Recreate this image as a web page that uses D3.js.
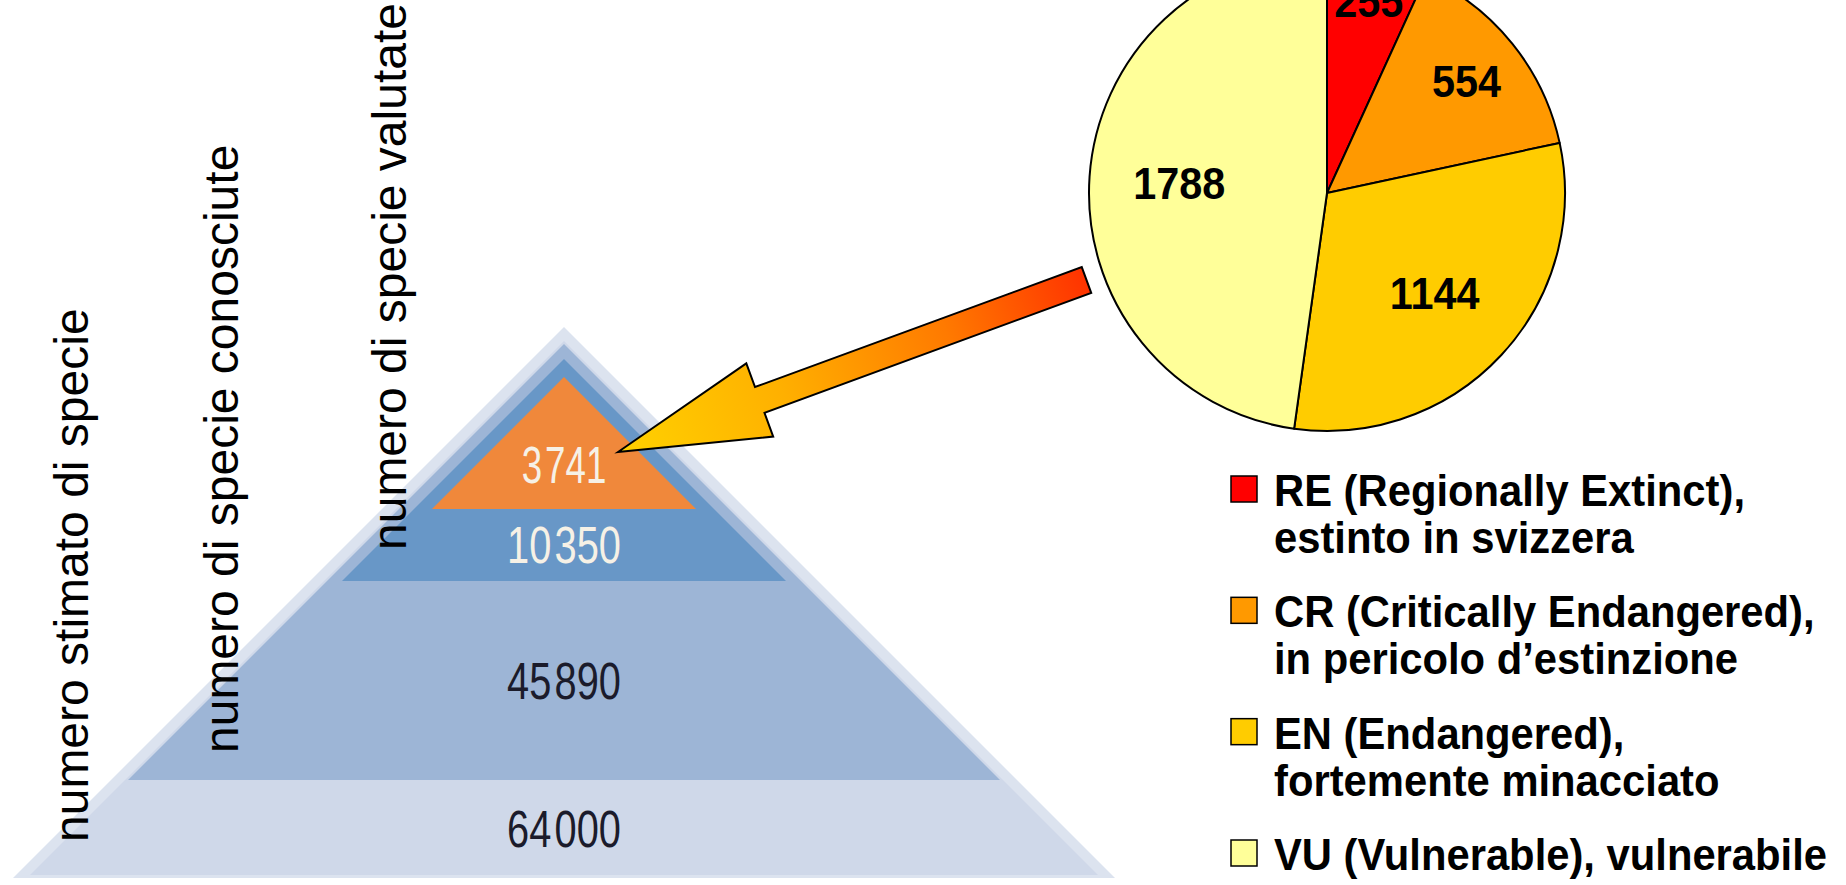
<!DOCTYPE html>
<html>
<head>
<meta charset="utf-8">
<script src="https://d3js.org/d3.v7.min.js"></script>
<style>
  html, body { margin: 0; padding: 0; background: #fff; overflow: hidden; }
  svg { display: block; }
</style>
</head>
<body>
<div id="chart"></div>
<script>
// pie data: species by red list category
const categories = ["RE", "CR", "EN", "VU"];
const counts = [255, 554, 1144, 1788];
const legendLines = [
  ["RE (Regionally Extinct),", "estinto in svizzera"],
  ["CR (Critically Endangered),", "in pericolo d\u2019estinzione"],
  ["EN (Endangered),", "fortemente minacciato"],
  ["VU (Vulnerable), vulnerabile"]
];

// pyramid data
const tierValues = [64000, 45890, 10350, 3741];
const tierTitles = ["numero stimato di specie", "numero di specie conosciute", "numero di specie valutate"];

const w = 1846, h = 885;
const sliceColors = ["#ff0000", "#ff9900", "#ffcc00", "#ffff99"];
const tierColors = ["#cfd8e9", "#9db5d6", "#6897c7", "#f0883b"];
const tierTextColors = ["#1b1b2b", "#1b1b2b", "#f6f1e6", "#f6f1e6"];

const svg = d3.select("#chart").append("svg")
  .attr("width", w)
  .attr("height", h);

const fmt = d3.formatLocale({decimal: ".", thousands: "\u200a", grouping: [3], currency: ["", ""]}).format(",");

// ---------- pyramid ----------
const cx = 564;
const tierTop = [327, 344, 359, 377];     // apex of each nested triangle
const tierBase = [878, 780, 581, 509];    // base of each nested triangle
const tri = (top, base) => {
  const hw = base - top;
  return [[cx, top], [cx + hw, base], [cx - hw, base]];
};
const line = d3.line().curve(d3.curveLinearClosed);

// soft rim of the outer triangle
svg.append("path")
  .attr("d", line(tri(tierTop[0], tierBase[0])))
  .attr("fill", "#dce3ef");

svg.selectAll("path.tier")
  .data(tierValues)
  .enter()
  .append("path")
  .attr("class", "tier")
  .attr("d", (d, i) => i === 0 ? line(tri(tierTop[0] + 14, tierBase[0] - 3)) : line(tri(tierTop[i], tierBase[i])))
  .attr("fill", (d, i) => tierColors[i]);

svg.selectAll("text.tier-label")
  .data(tierValues)
  .enter()
  .append("text")
  .attr("class", "tier-label")
  .attr("transform", (d, i) => {
    const last = i === tierValues.length - 1;
    const mid = last ? tierTop[i] + (tierBase[i] - tierTop[i]) * 2 / 3 : (tierBase[i] + tierBase[i + 1]) / 2;
    return "translate(" + cx + "," + (mid + 18) + ") scale(" + (last ? 0.72 : 0.78) + ",1)";
  })
  .attr("text-anchor", "middle")
  .style("font-family", "'Liberation Sans', Arial, sans-serif")
  .style("font-size", "51px")
  .attr("fill", (d, i) => tierTextColors[i])
  .text(d => fmt(d));

// vertical titles
const titleX = [88, 238, 406];
const titleY = [842, 753, 550];
svg.selectAll("text.title")
  .data(tierTitles)
  .enter()
  .append("text")
  .attr("class", "title")
  .attr("transform", (d, i) => "translate(" + titleX[i] + "," + titleY[i] + ") rotate(-90)")
  .style("font-family", "'Liberation Sans', Arial, sans-serif")
  .style("font-size", "48px")
  .attr("fill", "#000")
  .text(d => d);

// ---------- arrow ----------
const tip = [618, 452], tail = [1086.5, 280];
const len = Math.hypot(tail[0] - tip[0], tail[1] - tip[1]);
const u = [(tail[0] - tip[0]) / len, (tail[1] - tip[1]) / len];
const n = [-u[1], u[0]];
const headLen = 151, headHalf = 39, shaftHalf = 13.75;
const at = (p, a, b) => [p[0] + u[0] * a + n[0] * b, p[1] + u[1] * a + n[1] * b];
const arrowPts = [
  tip,
  at(tip, headLen, headHalf),
  at(tip, headLen, shaftHalf),
  at(tail, 0, shaftHalf),
  at(tail, 0, -shaftHalf),
  at(tip, headLen, -shaftHalf),
  at(tip, headLen, -headHalf)
];

const defs = svg.append("defs");
const grad = defs.append("linearGradient")
  .attr("id", "arrowGrad")
  .attr("gradientUnits", "userSpaceOnUse")
  .attr("x1", tip[0]).attr("y1", tip[1])
  .attr("x2", tail[0]).attr("y2", tail[1]);
grad.append("stop").attr("offset", "0").attr("stop-color", "#ffd200");
grad.append("stop").attr("offset", "0.35").attr("stop-color", "#ffb000");
grad.append("stop").attr("offset", "0.7").attr("stop-color", "#ff7a00");
grad.append("stop").attr("offset", "1").attr("stop-color", "#ff3300");

svg.append("path")
  .attr("d", line(arrowPts))
  .attr("fill", "url(#arrowGrad)")
  .attr("stroke", "#000")
  .attr("stroke-width", 2)
  .attr("stroke-linejoin", "miter");

// ---------- pie ----------
const pieCx = 1327, pieCy = 193, radius = 238;
const pie = d3.pie().sort(null).value(d => d);
const arcs = pie(counts);
const arc = d3.arc().innerRadius(0).outerRadius(radius);
const labelR = [196, 179, 147, 148];

const pieG = svg.append("g").attr("transform", "translate(" + pieCx + "," + pieCy + ")");

pieG.selectAll("path")
  .data(arcs)
  .enter()
  .append("path")
  .attr("d", arc)
  .attr("fill", (d, i) => sliceColors[i])
  .attr("stroke", "#000")
  .attr("stroke-width", 2)
  .attr("stroke-linejoin", "round");

pieG.selectAll("text")
  .data(arcs)
  .enter()
  .append("text")
  .attr("transform", (d, i) => "translate(" + d3.arc().innerRadius(labelR[i]).outerRadius(labelR[i]).centroid(d) + ") scale(0.94,1)")
  .attr("text-anchor", "middle")
  .attr("dy", "0.36em")
  .style("font-family", "'Liberation Sans', Arial, sans-serif")
  .style("font-weight", "bold")
  .style("font-size", "44px")
  .attr("fill", "#000")
  .text(d => d.data);

// ---------- legend ----------
const legendY = d3.scalePoint().domain(categories).range([506, 870]);
const legend = svg.selectAll("g.legend")
  .data(categories)
  .enter()
  .append("g")
  .attr("class", "legend");

legend.append("rect")
  .attr("x", 1231)
  .attr("y", d => legendY(d) - 30)
  .attr("width", 26)
  .attr("height", 26)
  .attr("fill", (d, i) => sliceColors[i])
  .attr("stroke", "#000")
  .attr("stroke-width", 1.5);

legend.each(function(d, i) {
  d3.select(this).selectAll("text")
    .data(legendLines[i])
    .enter()
    .append("text")
    .attr("transform", (t, j) => "translate(1274," + (legendY(d) + j * 47) + ") scale(0.928,1)")
    .style("font-family", "'Liberation Sans', Arial, sans-serif")
    .style("font-weight", "bold")
    .style("font-size", "45px")
    .attr("fill", "#000")
    .text(t => t);
});
</script>
</body>
</html>
